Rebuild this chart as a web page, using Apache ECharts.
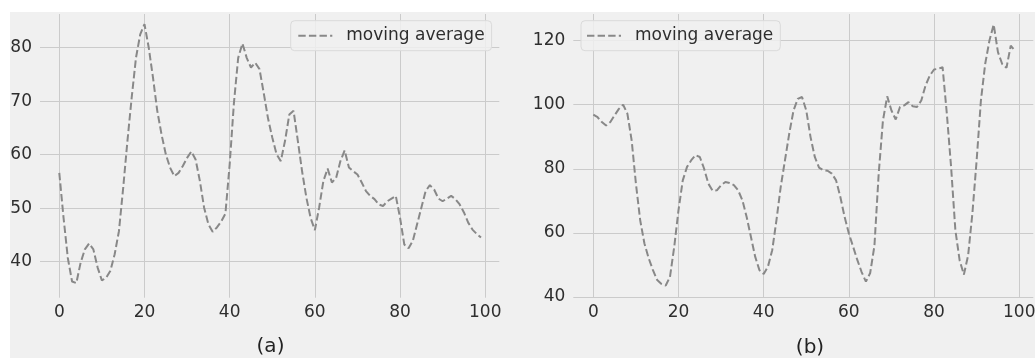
<!DOCTYPE html>
<html>
<head>
<meta charset="utf-8">
<script src="https://cdn.jsdelivr.net/npm/echarts@6/dist/echarts.min.js"></script>
<style>
  html, body { margin: 0; padding: 0; background: #ffffff; }
  #chart { width: 1035px; height: 358px; }
</style>
</head>
<body>
<div id="chart"></div>
<script>
// x positions (sample index)
const xIndex = [
  0,1,2,3,4,5,6,7,8,9,10,11,12,13,14,15,16,17,18,19,
  20,21,22,23,24,25,26,27,28,29,30,31,32,33,34,35,36,37,38,39,
  40,41,42,43,44,45,46,47,48,49,50,51,52,53,54,55,56,57,58,59,
  60,61,62,63,64,65,66,67,68,69,70,71,72,73,74,75,76,77,78,79,
  80,81,82,83,84,85,86,87,88,89,90,91,92,93,94,95,96,97,98,99
];

// panel (a) moving average
const movingAvgA = [
  56.6,48.2,40.7,36.3,36.0,39.8,42.3,43.4,42.3,38.9,
  36.5,37.0,38.3,41.4,45.7,53.8,62.6,70.7,78.1,82.5,
  84.4,80.0,74.4,68.2,63.8,60.1,57.6,56.0,56.6,57.9,
  59.4,60.6,59.1,55.1,50.1,47.0,45.6,46.4,47.5,49.0,
  58.2,69.7,78.1,80.8,78.1,76.3,77.2,76.0,71.5,66.8,
  63.2,60.1,58.8,62.6,67.5,68.2,62.6,56.9,52.0,48.2,
  45.9,50.1,55.1,57.4,54.8,55.7,58.8,60.8,57.6,56.9,
  56.3,54.8,53.2,52.3,51.7,50.7,50.4,51.3,51.8,52.3,
  48.2,43.2,42.5,43.9,47.0,50.1,53.2,54.3,53.5,51.8,
  51.3,51.8,52.3,51.7,50.7,49.2,47.3,46.0,45.2,44.5
];

// panel (b) moving average
const movingAvgB = [
  96.9,96.1,94.6,93.5,94.6,96.7,98.7,100.0,97.2,88.9,
  75.4,64.0,56.7,52.1,48.4,45.3,44.1,43.6,46.3,55.7,
  67.1,76.4,80.6,82.7,84.3,83.7,80.1,75.4,73.2,73.3,
  74.9,75.9,75.6,74.9,73.3,70.2,65.0,58.8,52.6,48.4,
  47.2,49.5,54.6,64.0,74.4,82.7,91.0,98.2,101.8,102.4,
  98.2,89.9,83.7,80.4,79.6,79.4,78.5,76.4,71.2,65.0,
  59.8,55.7,51.5,47.8,44.8,47.5,56.0,78.5,95.1,102.6,
  98.2,95.4,99.3,99.8,100.8,99.5,99.3,101.3,106.0,109.1,
  111.0,111.2,111.7,97.2,80.6,60.9,51.5,47.0,53.0,66.1,
  82.7,101.3,112.7,120.0,125.0,116.4,112.7,111.5,118.4,116.9
];

// tick labels
const xTicks = [0, 20, 40, 60, 80, 100];
const yTicksA = [40, 50, 60, 70, 80];
const yTicksB = [40, 60, 80, 100, 120];
const seriesName = 'moving average';
const panelLabels = ['(a)', '(b)'];

const FONT = '"DejaVu Sans", "Liberation Sans", sans-serif';
const LABEL_COLOR = '#2e2e2e';
const GRID_COLOR = '#cbcbcb';
const LINE_COLOR = '#888888';

function pairs(values) {
  return values.map((v, i) => [xIndex[i], v]);
}

function xAxisCfg(gridIndex, min, max) {
  return {
    type: 'value', gridIndex, min, max,
    axisLine: { show: false },
    axisTick: { show: false, customValues: xTicks },
    axisLabel: { customValues: xTicks, fontSize: 17, fontFamily: FONT, color: LABEL_COLOR, margin: 6 },
    splitLine: { show: true, lineStyle: { color: GRID_COLOR, width: 1 } }
  };
}
function yAxisCfg(gridIndex, min, max, ticks) {
  return {
    type: 'value', gridIndex, min, max,
    axisLine: { show: false },
    axisTick: { show: false, customValues: ticks },
    axisLabel: { customValues: ticks, fontSize: 17, fontFamily: FONT, color: LABEL_COLOR, margin: 8 },
    splitLine: { show: true, lineStyle: { color: GRID_COLOR, width: 1 } }
  };
}
function legendCfg(left, padLeft) {
  return {
    left, top: 20.7,
    orient: 'horizontal',
    padding: [6, 7, 6, padLeft],
    itemWidth: 34, itemHeight: 12,
    backgroundColor: 'rgba(240,240,240,0.85)',
    borderColor: '#dadada', borderWidth: 1, borderRadius: 4,
    itemStyle: { opacity: 0 },
    lineStyle: { color: LINE_COLOR, width: 2, type: [7.4, 3.2], cap: 'butt' },
    textStyle: { fontSize: 17, fontFamily: FONT, color: LABEL_COLOR, lineHeight: 18, padding: [0, 0, 0, 9] },
    data: [seriesName]
  };
}
function lineSeries(idx, values) {
  return {
    name: seriesName, type: 'line',
    xAxisIndex: idx, yAxisIndex: idx,
    data: pairs(values),
    symbol: 'none', smooth: false,
    lineStyle: { color: LINE_COLOR, width: 2, type: [7.4, 3.2], cap: 'butt' },
    itemStyle: { color: LINE_COLOR },
    emphasis: { disabled: true },
    animation: false
  };
}

const chart = echarts.init(document.getElementById('chart'), null, { renderer: 'canvas' });
chart.setOption({
  animation: false,
  backgroundColor: '#f0f0f0',
  grid: [
    { left: 40, top: 14, width: 459.3, height: 283.7, outerBoundsMode: 'none', containLabel: false },
    { left: 573.3, top: 14, width: 460, height: 283.7, outerBoundsMode: 'none', containLabel: false }
  ],
  xAxis: [ xAxisCfg(0, -4.53, 103.3), xAxisCfg(1, -4.7, 103.3) ],
  yAxis: [ yAxisCfg(0, 33.27, 86.3, yTicksA), yAxisCfg(1, 39.8, 128.3, yTicksB) ],
  legend: [ legendCfg(290.7, 6.6), legendCfg(581, 5) ],
  series: [ lineSeries(0, movingAvgA), lineSeries(1, movingAvgB) ],
  graphic: [
    { type: 'rect', shape: { x: 0, y: 0, width: 1035, height: 12 }, style: { fill: '#ffffff' }, silent: true },
    { type: 'rect', shape: { x: 0, y: 0, width: 10, height: 358 }, style: { fill: '#ffffff' }, silent: true },
    { type: 'text', x: 270.5, y: 347, silent: true,
      style: { text: panelLabels[0], fontSize: 20, fontFamily: FONT, fill: '#222222', align: 'center', verticalAlign: 'middle' } },
    { type: 'text', x: 810, y: 347.5, silent: true,
      style: { text: panelLabels[1], fontSize: 20, fontFamily: FONT, fill: '#222222', align: 'center', verticalAlign: 'middle' } }
  ]
});
</script>
</body>
</html>
